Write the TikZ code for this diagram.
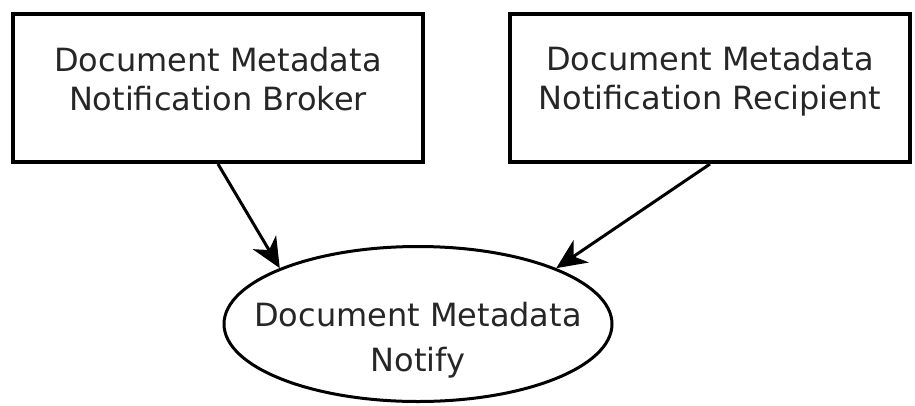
\documentclass[tikz,border=0pt]{standalone}
\usepackage{fontspec}
\setmainfont{DejaVu Sans}
\usepackage{tikz}
\usetikzlibrary{positioning,shapes.geometric,arrows.meta}

\begin{document}
\begin{tikzpicture}[x=1pt,y=-1pt,->,>={Stealth[length=30pt,width=27pt,inset=9pt]},
	words/.style={font=\fontsize{32}{39}\selectfont,align=center,text=black!85},
	box/.style={draw,rectangle,line width=4pt,inner sep=0pt,minimum width=410pt,minimum height=148pt},
	oval/.style={draw,ellipse,line width=3pt,inner sep=0pt,minimum width=388pt,minimum height=155pt},
	link/.style={line width=3pt}]
	\useasboundingbox (0,0) rectangle (915,405);
	\node[box,label={[words,yshift=9pt]center:Document Metadata\\Notification Broker}] (broker) at (218,88) {};
	\node[box,minimum width=400pt,label={[words,yshift=7pt]center:Document Metadata\\Notification Recipient}] (recipient) [right=83pt of broker] {};
	\node[oval,label={[words,font=\fontsize{32}{45}\selectfont,yshift=-16pt]center:Document Metadata\\Notify}] (notify) at (418,324) {};
	
	\draw[link] (broker.south) -- (notify.158);
	\draw[link] (recipient.south) -- (notify.22);
\end{tikzpicture}
\end{document}
